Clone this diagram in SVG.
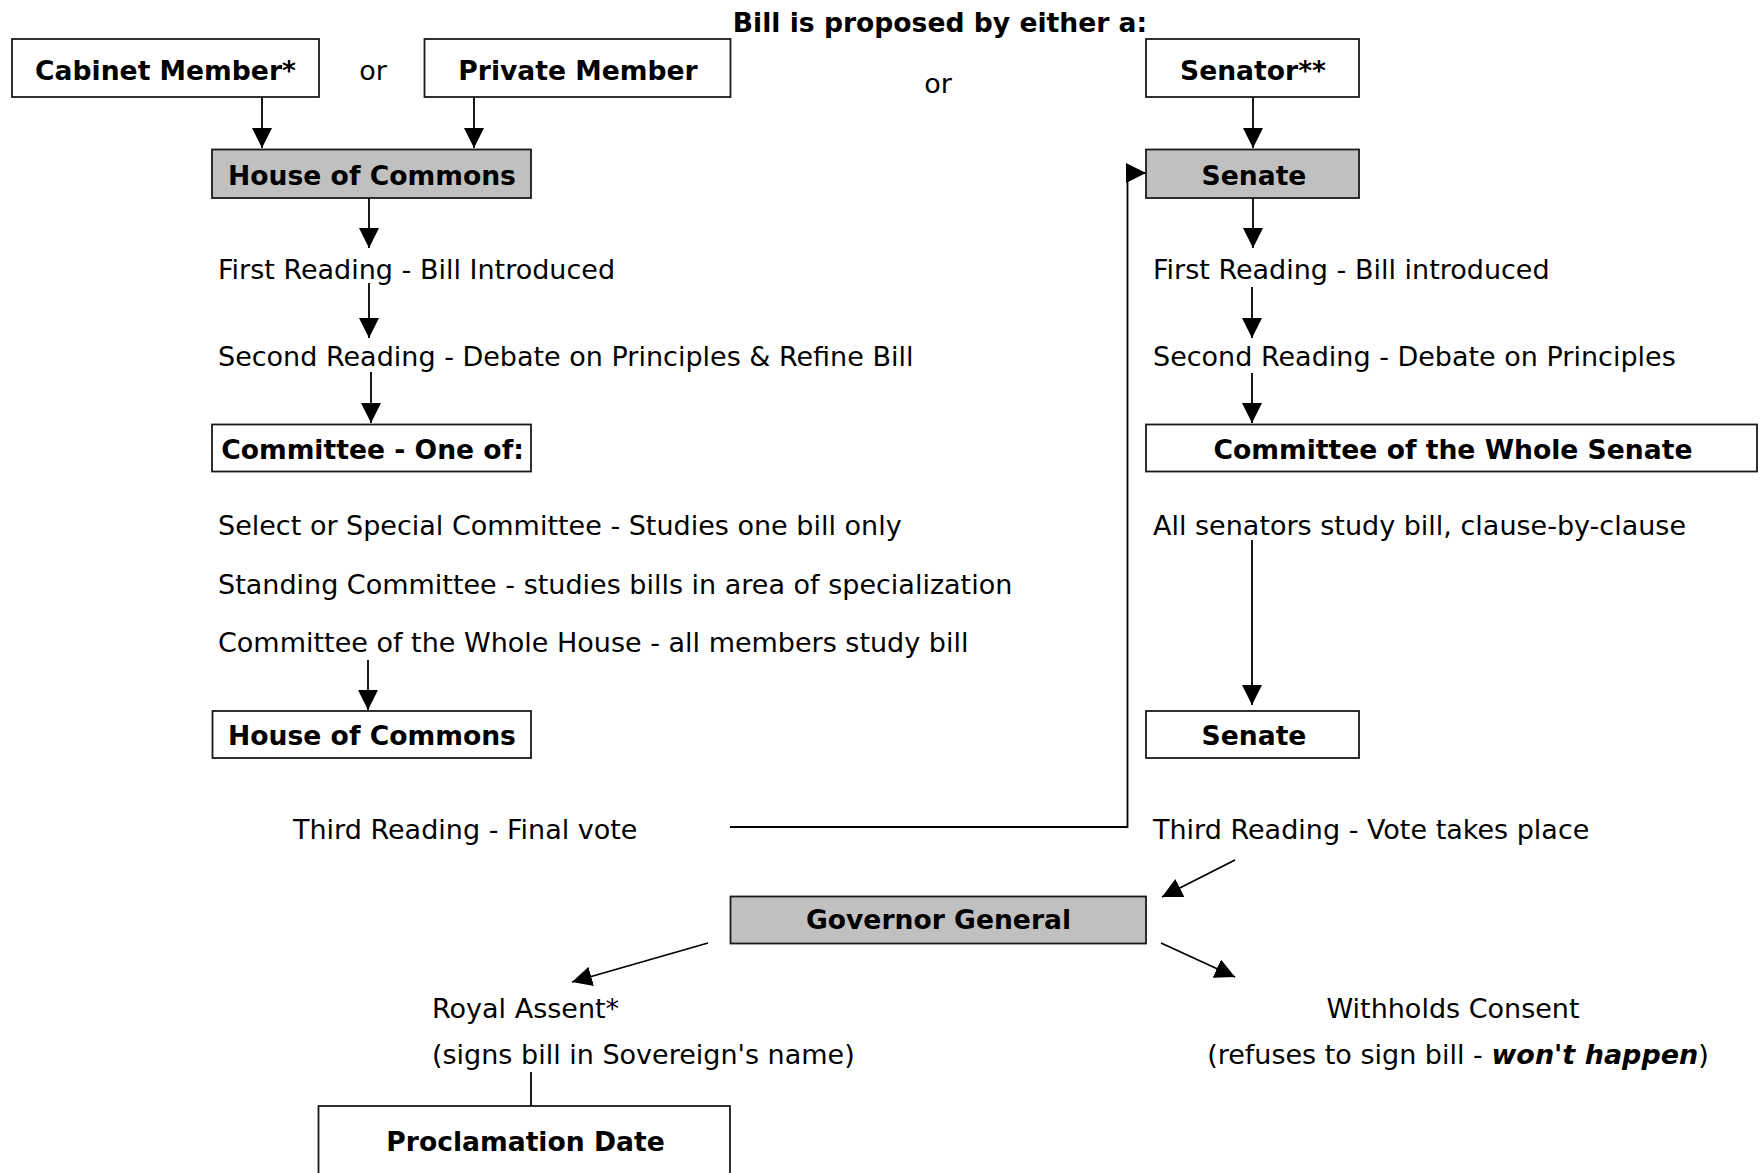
<svg xmlns="http://www.w3.org/2000/svg" width="1760" height="1173" viewBox="0 0 1760 1173">
<defs>
<marker id="ah" markerUnits="userSpaceOnUse" markerWidth="20" markerHeight="20" refX="20" refY="10" orient="auto" viewBox="0 0 20 20">
<path d="M0,0 L20,10 L0,20 z" fill="#000"/>
</marker>
<style>
text{font-family:"DejaVu Sans","Verdana",sans-serif;font-size:27px;fill:#000}
.b{font-weight:bold;font-size:26.6px}
.m{text-anchor:middle}
.box{fill:#fff;stroke:#1a1a1a;stroke-width:1.8}
.grey{fill:#c0c0c0;stroke:#1a1a1a;stroke-width:1.8}
.c{fill:none;stroke:#000;stroke-width:1.8}
.a{fill:none;stroke:#000;stroke-width:1.8;marker-end:url(#ah)}
</style>
</defs>
<rect width="1760" height="1173" fill="#fff"/>

<text id="title" class="b m" x="940" y="32">Bill is proposed by either a:</text>
<text id="or1" class="m" x="373" y="80">or</text>
<text id="or2" class="m" x="938" y="93">or</text>

<g id="cabinet"><rect class="box" x="12" y="39" width="307" height="58"/><text class="b m" x="165.5" y="80">Cabinet Member*</text></g>
<g id="private"><rect class="box" x="424.5" y="39" width="306" height="58"/><text class="b m" x="578" y="80">Private Member</text></g>
<g id="senator"><rect class="box" x="1146" y="39" width="213" height="58"/><text class="b m" x="1253" y="80">Senator**</text></g>

<g id="hoc1"><rect class="grey" x="212" y="149.5" width="319" height="48.5"/><text class="b m" x="372" y="185">House of Commons</text></g>
<g id="senate1"><rect class="grey" x="1146" y="149.5" width="213" height="48.5"/><text class="b m" x="1254" y="185">Senate</text></g>

<g id="hoc-first"><text x="218" y="279">First Reading - Bill Introduced</text></g>
<g id="hoc-second"><text x="218" y="366">Second Reading - Debate on Principles &amp; Refine Bill</text></g>
<g id="committee"><rect class="box" x="212" y="424.5" width="319" height="47"/><text class="b m" x="372.5" y="459">Committee - One of:</text></g>
<g id="select"><text x="218" y="535">Select or Special Committee - Studies one bill only</text></g>
<g id="standing"><text x="218" y="593.5">Standing Committee - studies bills in area of specialization</text></g>
<g id="whole-house"><text x="218" y="652">Committee of the Whole House - all members study bill</text></g>
<g id="hoc2"><rect class="box" x="212.5" y="711" width="318.5" height="47"/><text class="b m" x="372" y="745">House of Commons</text></g>
<g id="hoc-third"><text x="293" y="839">Third Reading - Final vote</text></g>

<g id="sen-first"><text x="1153" y="279">First Reading - Bill introduced</text></g>
<g id="sen-second"><text x="1153" y="366">Second Reading - Debate on Principles</text></g>
<g id="cws"><rect class="box" x="1146" y="424.5" width="611" height="47"/><text class="b m" x="1453" y="459">Committee of the Whole Senate</text></g>
<g id="all-senators"><text x="1153" y="535">All senators study bill, clause-by-clause</text></g>
<g id="senate2"><rect class="box" x="1146" y="711" width="213" height="47"/><text class="b m" x="1254" y="745">Senate</text></g>
<g id="sen-third"><text x="1153" y="839">Third Reading - Vote takes place</text></g>

<g id="gg"><rect class="grey" x="730.5" y="896.5" width="415.5" height="47"/><text class="b m" x="938.5" y="929">Governor General</text></g>

<g id="royal"><text x="432" y="1018">Royal Assent*</text><text x="432" y="1064">(signs bill in Sovereign's name)</text></g>
<g id="withholds"><text class="m" x="1453" y="1018">Withholds Consent</text><text class="m" x="1458" y="1064">(refuses to sign bill - <tspan font-weight="bold" font-style="italic">won't happen</tspan>)</text></g>
<g id="proclamation"><rect class="box" x="318.5" y="1106" width="411.5" height="100"/><text class="b m" x="525.5" y="1151">Proclamation Date</text></g>

<g id="connectors">
<line class="a" x1="262" y1="97" x2="262" y2="148"/>
<line class="a" x1="474" y1="97" x2="474" y2="148"/>
<line class="a" x1="1253" y1="97" x2="1253" y2="148"/>
<line class="a" x1="369" y1="198" x2="369" y2="248"/>
<line class="a" x1="369" y1="283" x2="369" y2="338"/>
<line class="a" x1="371" y1="372" x2="371" y2="423"/>
<line class="a" x1="368" y1="660" x2="368" y2="710"/>
<polyline class="a" points="730,827 1127.5,827 1127.5,173 1146,173"/>
<line class="a" x1="1253" y1="198" x2="1253" y2="248"/>
<line class="a" x1="1252" y1="287" x2="1252" y2="338"/>
<line class="a" x1="1252" y1="373" x2="1252" y2="423"/>
<line class="a" x1="1252" y1="540" x2="1252" y2="705"/>
<line class="a" x1="1235" y1="860" x2="1162" y2="897"/>
<line class="a" x1="708" y1="943" x2="572" y2="982"/>
<line class="a" x1="1161" y1="943" x2="1235" y2="977"/>
<line class="c" x1="531" y1="1072" x2="531" y2="1106"/>
</g>
</svg>
